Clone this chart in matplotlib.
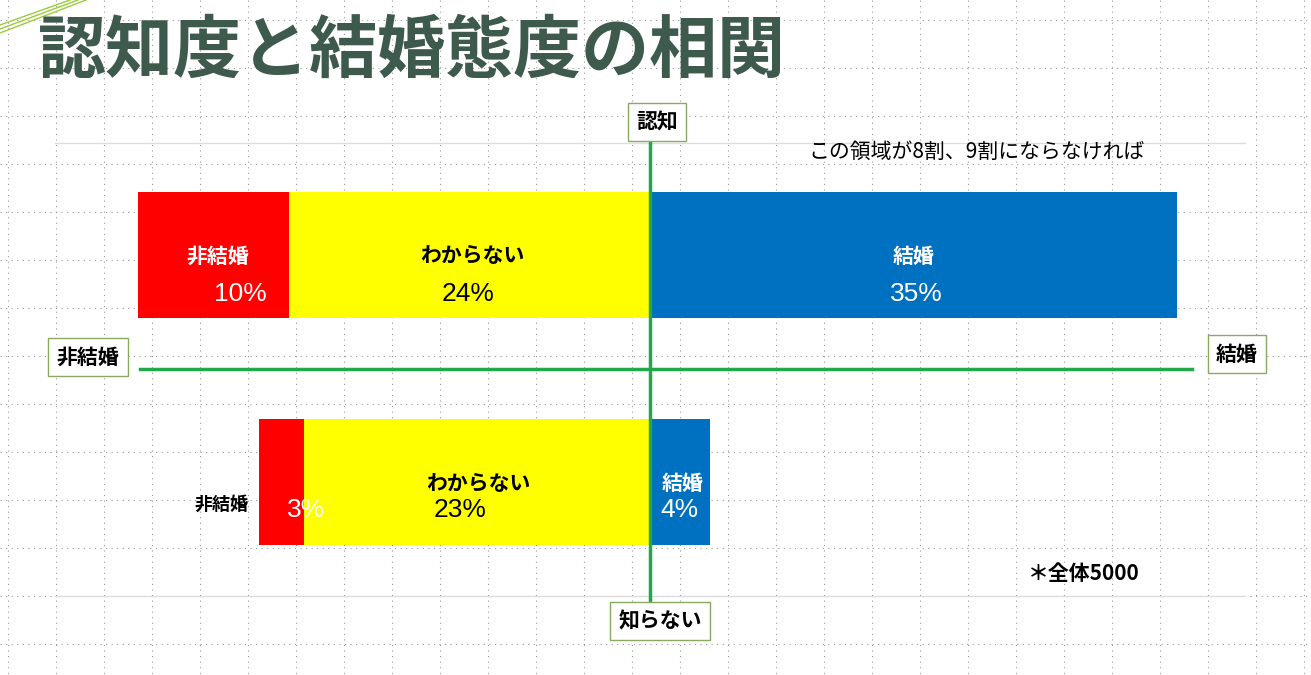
import matplotlib
matplotlib.use("Agg")
import matplotlib.pyplot as plt

plt.rcParams["font.family"] = "Noto Sans CJK JP"

segments = ["非結婚", "わからない", "結婚"]
aware_vals = [10, 24, 35]
unaware_vals = [3, 23, 4]
colors = ["#ff0000", "#ffff00", "#0070c0"]

PX = 15.05  # pixels per percent
fig = plt.figure(figsize=(13.11, 6.75), dpi=100)
ax = fig.add_axes([0, 0, 1, 1])
ax.set_xlim(-650 / PX, 661 / PX)
ax.set_ylim(675, 0)
ax.axis("off")

def px(x):
    return (x - 650) / PX

for gx in range(8, 1311, 48):
    ax.plot([px(gx)] * 2, [0, 675], color="#999999", lw=0.8, ls=(0, (1, 4)), zorder=0)
for gy in range(20, 675, 48):
    ax.plot([px(0), px(1311)], [gy, gy], color="#999999", lw=0.8, ls=(0, (1, 4)), zorder=0)
for gy in (143, 596):
    ax.plot([px(55), px(1245)], [gy, gy], color="#dddddd", lw=1, zorder=1)

for off in (0, 8, 16):
    ax.plot([px(0), px(70 + off)], [25 + off / 2, 0], color="#9ccc3c", lw=1, zorder=1)

def stack(vals, y0, h):
    starts = [-(vals[0] + vals[1]), -vals[1], 0]
    for v, s, c in zip(vals, starts, colors):
        ax.barh(y0 + h / 2, v, left=s, height=h, color=c, zorder=2)

PF = "Liberation Sans"
stack(aware_vals, 192, 126)
ax.text(px(218), 256, segments[0], color="white", fontsize=15, fontweight="bold", ha="center", va="center", zorder=3)
ax.text(px(240), 294, f"{aware_vals[0]}%", color="white", fontsize=19, family=PF, ha="center", va="center", zorder=3)
ax.text(px(472), 256, segments[1], color="black", fontsize=15, fontweight="bold", ha="center", va="center", zorder=3)
ax.text(px(468), 294, f"{aware_vals[1]}%", color="black", fontsize=19, family=PF, ha="center", va="center", zorder=3)
ax.text(px(914), 256, segments[2], color="white", fontsize=15, fontweight="bold", ha="center", va="center", zorder=3)
ax.text(px(916), 294, f"{aware_vals[2]}%", color="white", fontsize=19, family=PF, ha="center", va="center", zorder=3)

stack(unaware_vals, 419, 126)
ax.text(px(222), 504, segments[0], color="black", fontsize=13, fontweight="bold", ha="center", va="center", zorder=3)
ax.text(px(306), 510, f"{unaware_vals[0]}%", color="white", fontsize=19, family=PF, ha="center", va="center", zorder=3)
ax.text(px(478), 483, segments[1], color="black", fontsize=15, fontweight="bold", ha="center", va="center", zorder=3)
ax.text(px(460), 510, f"{unaware_vals[1]}%", color="black", fontsize=19, family=PF, ha="center", va="center", zorder=3)
ax.text(px(683), 483, segments[2], color="white", fontsize=15, fontweight="bold", ha="center", va="center", zorder=3)
ax.text(px(679), 510, f"{unaware_vals[2]}%", color="white", fontsize=19, family=PF, ha="center", va="center", zorder=3)

green = "#22a84a"
ax.plot([0, 0], [140, 602], color=green, lw=2.5, zorder=4)
ax.plot([px(140), px(1192)], [369, 369], color=green, lw=2.5, zorder=4)

box = dict(boxstyle="square,pad=0.4", fc="white", ec="#8aa860", lw=1)
ax.text(px(657), 122, "認知", fontsize=15, fontweight="bold", ha="center", va="center", bbox=box, zorder=5)
ax.text(px(660), 621, "知らない", fontsize=15, fontweight="bold", ha="center", va="center", bbox=box, zorder=5)
ax.text(px(88), 357, "非結婚", fontsize=15, fontweight="bold", ha="center", va="center", bbox=box, zorder=5)
ax.text(px(1237), 354, "結婚", fontsize=15, fontweight="bold", ha="center", va="center", bbox=box, zorder=5)

ax.text(px(38), 52, "認知度と結婚態度の相関", fontsize=49, fontweight="bold", color="#3e5a4c", ha="left", va="center", zorder=5)
ax.text(px(808), 152, "この領域が8割、9割にならなければ", fontsize=15, ha="left", va="center", zorder=5)
ax.text(px(1028), 574, "＊全体5000", fontsize=15, fontweight="bold", ha="left", va="center", zorder=5)

fig.savefig("out.png", dpi=100, facecolor="white")
